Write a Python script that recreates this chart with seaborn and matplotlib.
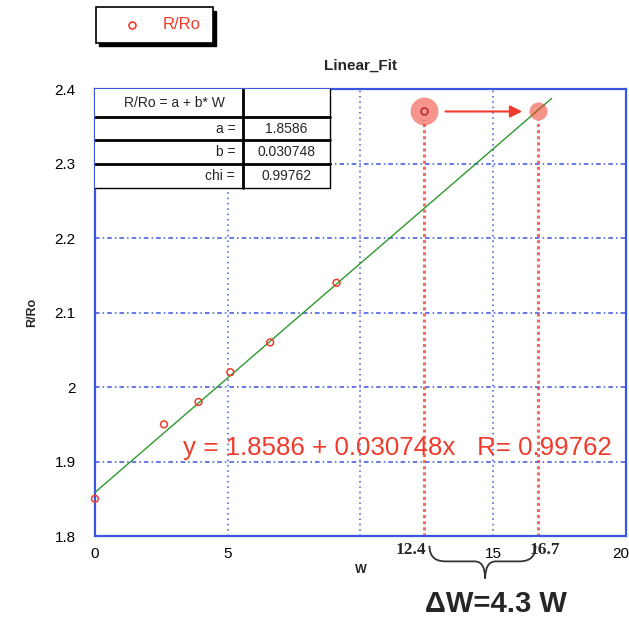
import numpy as np
import matplotlib.pyplot as plt
import matplotlib.transforms as mtransforms
import seaborn as sns
from matplotlib.patches import Rectangle, PathPatch, FancyArrowPatch
from matplotlib.path import Path

# measured points
w = [0.0, 2.6, 3.9, 5.1, 6.6, 9.1]
r_ro = [1.85, 1.95, 1.98, 2.02, 2.06, 2.14]

# fit parameters
a_fit = 1.8586
b_fit = 0.030748
chi = 0.99762
fit_x = [0.0, 17.2]

# highlighted extrapolation points
w_low, w_high = 12.4, 16.7
r_mark = 2.37

x_ticks = [0, 5, 15, 20]
y_ticks = [1.8, 1.9, 2.0, 2.1, 2.2, 2.3, 2.4]
y_ticklabels = ["1.8", "1.9", "2", "2.1", "2.2", "2.3", "2.4"]

sns.set_style("white")
plt.rcParams['font.family'] = ['Liberation Sans', 'DejaVu Sans']

blue = "#3a55e0"
red = "#f03a2a"

fig = plt.figure(figsize=(6.29, 6.19), dpi=100)
ax = fig.add_axes([0.151, 0.134, 0.844, 0.722])

# grid
for gx in [5, 10, 15]:
    ax.axvline(gx, color=blue, lw=1.1, ls=(0, (1, 2.5)), zorder=1)
for gy in [1.9, 2.0, 2.1, 2.2, 2.3]:
    ax.axhline(gy, color=blue, lw=1.1, ls=(0, (3, 2, 1, 2)), zorder=1)

# fit line
fit_y = [a_fit + b_fit * v for v in fit_x]
sns.lineplot(x=fit_x, y=fit_y, ax=ax, color="#2e9a2e", lw=1, zorder=3)

# data
sns.scatterplot(x=w, y=r_ro, ax=ax, marker="o", s=24, facecolor="none",
                edgecolor=red, linewidth=1.1, zorder=4)
for coll in ax.collections:
    coll.set_clip_on(False)

# extrapolation markers
ax.plot([w_low], [r_mark], "o", ms=20, color=red, alpha=0.55, mec="none", zorder=5)
ax.plot([w_low], [r_mark], "o", ms=5, mfc="none", mec="#b02020", mew=1, zorder=6)
ax.plot([w_high], [r_mark], "o", ms=13, color=red, alpha=0.55, mec="none", zorder=5)
for v in [w_low, w_high]:
    ax.plot([v, v], [1.8, r_mark - 0.012], color=red, lw=2.2, ls=(0, (1, 1)),
            alpha=0.75, zorder=2)
ax.add_patch(FancyArrowPatch((13.1, r_mark), (16.2, r_mark), arrowstyle="-|>",
                             mutation_scale=18, color=red, lw=1.5, zorder=6))

ax.text(11.4, 1.918, "y = 1.8586 + 0.030748x   R= 0.99762", color=red, fontsize=18.6,
        ha="center", va="center", zorder=7)

ax.set_xlim(0, 20)
ax.set_ylim(1.8, 2.4)
ax.set_xticks(x_ticks)
ax.set_yticks(y_ticks)
ax.set_yticklabels(y_ticklabels)
ax.tick_params(axis="both", direction="in", colors=blue, length=5, width=1.2,
               labelcolor="black", labelsize=11, pad=8)
ax.tick_params(axis="y", pad=14)
# nudge the last x label so it stays inside the figure
last = ax.get_xticklabels()[-1]
last.set_transform(last.get_transform() +
                   mtransforms.ScaledTranslation(-5 / 100, 0, fig.dpi_scale_trans))
for sp in ax.spines.values():
    sp.set_color(blue)
    sp.set_linewidth(1.6)
ax.set_xlabel("W", fontsize=9, fontweight="bold", labelpad=2)
ax.set_ylabel("R/Ro", fontsize=9, fontweight="bold", labelpad=12)
ax.set_title("Linear_Fit", fontsize=11, fontweight="bold", pad=14)

# parameter table (axes coords)
tw, tc = 0.443, 0.279
rows = [1.0, 0.937, 0.886, 0.832, 0.779]
ax.add_patch(Rectangle((0, rows[-1]), tw, 1 - rows[-1], transform=ax.transAxes,
                       facecolor="white", edgecolor="none", zorder=8))
for yv in rows[1:-1]:
    ax.plot([0, tw], [yv, yv], transform=ax.transAxes, color="black", lw=2, zorder=9)
ax.plot([0, tw], [rows[-1]] * 2, transform=ax.transAxes, color="black", lw=1, zorder=9)
ax.plot([tw, tw], [rows[-1], 1], transform=ax.transAxes, color="black", lw=1, zorder=9)
ax.plot([tc, tc], [rows[-1], 1], transform=ax.transAxes, color="black", lw=2, zorder=9)
labels = ["R/Ro = a + b* W", "a =", "b =", "chi ="]
values = ["", f"{a_fit}", f"{b_fit}", f"{chi}"]
for i, (lab, val) in enumerate(zip(labels, values)):
    yc = (rows[i] + rows[i + 1]) / 2
    if i == 0:
        ax.text(tc / 2 + 0.01, yc, lab, transform=ax.transAxes, ha="center",
                va="center", fontsize=10, zorder=10)
    else:
        ax.text(tc - 0.015, yc, lab, transform=ax.transAxes, ha="right",
                va="center", fontsize=10, zorder=10)
    ax.text((tc + tw) / 2, yc, val, transform=ax.transAxes, ha="center",
            va="center", fontsize=10, zorder=10)

# bold serif labels under the axis
for xv, s in [(11.9, "12.4"), (16.95, "16.7")]:
    ax.text(xv, 1.781, s, ha="center", va="center", fontsize=12.5,
            fontweight="bold", family="Liberation Serif", clip_on=False)

# brace
verts = [(12.6, 1.787), (12.6, 1.766), (13.2, 1.766),
         (14.3, 1.766), (14.7, 1.766), (14.7, 1.743),
         (14.7, 1.766), (15.1, 1.766), (16.0, 1.766),
         (16.6, 1.766), (16.6, 1.787)]
codes = [Path.MOVETO, Path.CURVE3, Path.CURVE3,
         Path.LINETO, Path.CURVE3, Path.CURVE3,
         Path.CURVE3, Path.CURVE3, Path.LINETO,
         Path.CURVE3, Path.CURVE3]
ax.add_patch(PathPatch(Path(verts, codes), facecolor="none", edgecolor="#333333",
                       lw=1.3, clip_on=False))
ax.text(15.1, 1.709, "\u0394W=4.3 W", ha="center", va="center", fontsize=21,
        fontweight="bold", clip_on=False)

# legend box with shadow
fig.patches.append(Rectangle((0.158, 0.925), 0.185, 0.058, transform=fig.transFigure,
                             facecolor="black", edgecolor="black", zorder=1))
fig.patches.append(Rectangle((0.153, 0.931), 0.185, 0.058, transform=fig.transFigure,
                             facecolor="white", edgecolor="black", lw=1.2, zorder=2))
fig.lines.append(plt.Line2D([0.21], [0.96], transform=fig.transFigure, marker="o",
                            ms=5, mfc="none", mec=red, mew=1.2, zorder=3))
fig.text(0.258, 0.96, "R/Ro", color=red, fontsize=12, va="center", zorder=3)

fig.savefig("out.png", dpi=100)
